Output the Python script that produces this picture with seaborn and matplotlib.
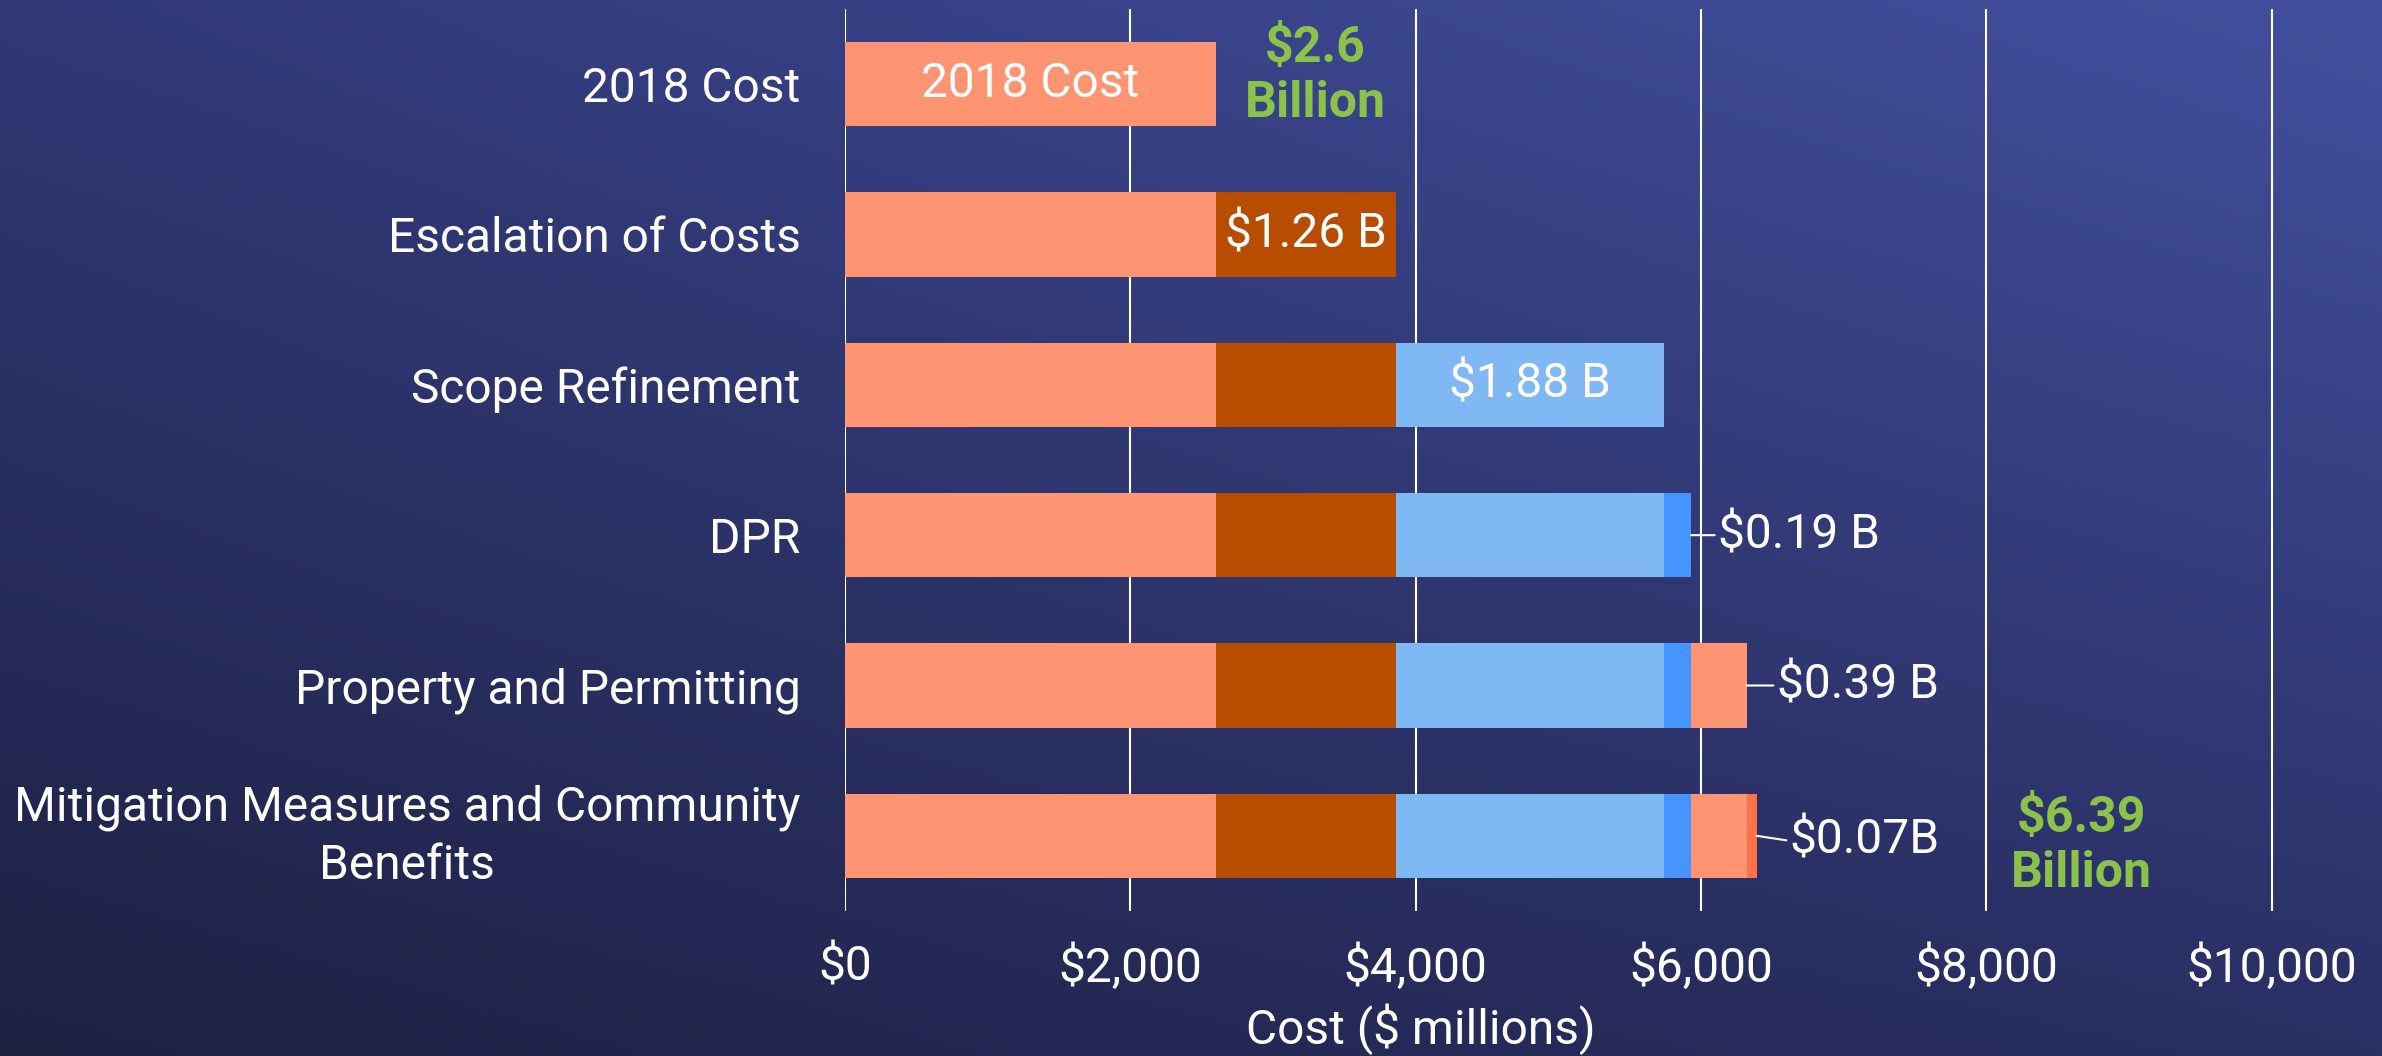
import numpy as np
import pandas as pd
import seaborn as sns
import matplotlib.pyplot as plt
from matplotlib.transforms import ScaledTranslation

# data ($ millions)
categories = ["2018 Cost", "Escalation of Costs", "Scope Refinement", "DPR",
              "Property and Permitting", "Mitigation Measures and Community\nBenefits"]
increments = [2600, 1260, 1880, 190, 390, 70]
inside_labels = {0: "2018 Cost", 1: "$1.26 B", 2: "$1.88 B"}
outside_labels = {3: "$0.19 B", 4: "$0.39 B", 5: "$0.07B"}
start_label = "$2.6\nBillion"
total_label = "$6.39\nBillion"
x_ticks = [0, 2000, 4000, 6000, 8000, 10000]
x_ticklabels = ["$0", "$2,000", "$4,000", "$6,000", "$8,000", "$10,000"]

# styles
segment_colors = ["#FF9473", "#B84D00", "#7FB8F3", "#4694FF", "#FF9473", "#FF7149"]
green = "#8BC34A"
fs = 34.5

sns.set_style("white")
plt.rcParams['font.family'] = ['Roboto', 'DejaVu Sans']

# cumulative layers: row i holds segments 0..i
cum = np.cumsum(increments)
df = pd.DataFrame({"category": categories})
for k in range(len(increments)):
    df[f"layer{k}"] = [cum[k] if i >= k else 0 for i in range(len(categories))]

fig = plt.figure(figsize=(23.82, 10.56), dpi=100)

# gradient background
bg = fig.add_axes([0, 0, 1, 1], zorder=-10)
u = np.linspace(0, 1, 400)[None, :]
v = np.linspace(1, 0, 200)[:, None]
bl = np.array([30, 33, 66]) / 255
br = np.array([42, 47, 100]) / 255
tl = np.array([48, 56, 118]) / 255
tr = np.array([66, 80, 158]) / 255
grad = (bl * ((1 - u) * (1 - v))[..., None] + br * (u * (1 - v))[..., None]
        + tl * ((1 - u) * v)[..., None] + tr * (u * v)[..., None])
bg.imshow(grad, aspect='auto', extent=[0, 1, 0, 1])
bg.axis('off')

ax = fig.add_axes([845 / 2382, 145 / 1056, 1498 / 2382, 902 / 1056])
ax.set_facecolor('none')

for k in reversed(range(len(increments))):
    sns.barplot(data=df, x=f"layer{k}", y="category", orient="h", color=segment_colors[k],
                saturation=1, width=0.56, linewidth=0, ax=ax)

ax.set_xlim(0, 10500)
ax.set_xticks(x_ticks)
ax.set_xticklabels(x_ticklabels)
ax.grid(axis='x', color='white', linewidth=1.5)
ax.grid(axis='y', visible=False)
ax.set_axisbelow(True)
for s in ax.spines.values():
    s.set_visible(False)
ax.tick_params(axis='both', length=0, colors='white', labelsize=fs)
ax.tick_params(axis='y', pad=32)
ax.tick_params(axis='x', pad=24)
for t in ax.get_yticklabels():
    t.set_multialignment('center')
    t.set_linespacing(1.32)
    if "\n" in t.get_text():
        t.set_transform(t.get_transform() + ScaledTranslation(0, 10 / 100, fig.dpi_scale_trans))
ax.set_ylabel("")
ax.set_xlabel("Cost ($ millions)", color='white', fontsize=fs)
ax.xaxis.set_label_coords(0.3845, -0.103)

# labels inside segments
for i, txt in inside_labels.items():
    ax.text(cum[i] - increments[i] / 2, i, txt, ha='center', va='center',
            color='white', fontsize=fs)

# labels outside with leader lines
offsets = {3: (27, 0), 4: (30, 0), 5: (33, -5)}
for i, txt in outside_labels.items():
    ax.annotate(txt, xy=(cum[i], i), xytext=offsets[i], textcoords='offset pixels',
                ha='left', va='center', color='white', fontsize=fs,
                arrowprops=dict(arrowstyle='-', color='white', lw=1.5,
                                shrinkA=0, shrinkB=0, relpos=(0, 0.5)))

ax.annotate(start_label, xy=(cum[0], 0), xytext=(99, 8), textcoords='offset pixels',
            ha='center', va='center', color=green, fontsize=36, fontweight='bold',
            linespacing=1.2)
ax.annotate(total_label, xy=(cum[-1], 5), xytext=(325, -10), textcoords='offset pixels',
            ha='center', va='center', color=green, fontsize=36, fontweight='bold',
            linespacing=1.2)

fig.savefig("out.png", dpi=100)
